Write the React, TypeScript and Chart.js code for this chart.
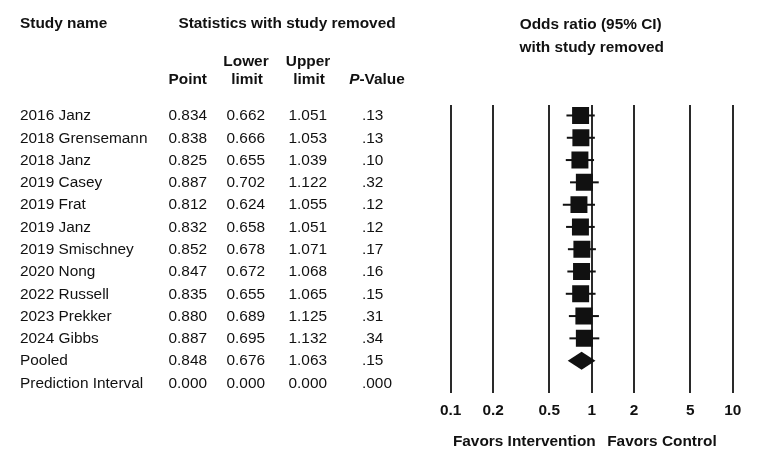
import React, { useEffect, useRef } from 'react';
import { Chart, registerables } from 'chart.js';

Chart.register(...registerables);

const studyNames = [
  '2016 Janz',
  '2018 Grensemann',
  '2018 Janz',
  '2019 Casey',
  '2019 Frat',
  '2019 Janz',
  '2019 Smischney',
  '2020 Nong',
  '2022 Russell',
  '2023 Prekker',
  '2024 Gibbs',
];
const pointEstimates = [0.834, 0.838, 0.825, 0.887, 0.812, 0.832, 0.852, 0.847, 0.835, 0.88, 0.887];
const lowerLimits = [0.662, 0.666, 0.655, 0.702, 0.624, 0.658, 0.678, 0.672, 0.655, 0.689, 0.695];
const upperLimits = [1.051, 1.053, 1.039, 1.122, 1.055, 1.051, 1.071, 1.068, 1.065, 1.125, 1.132];
const pValues = ['.13', '.13', '.10', '.32', '.12', '.12', '.17', '.16', '.15', '.31', '.34'];

const pooledLabel = 'Pooled';
const pooledPoint = 0.848;
const pooledLower = 0.676;
const pooledUpper = 1.063;
const pooledP = '.15';

const predictionLabel = 'Prediction Interval';
const predictionPoint = 0.0;
const predictionLower = 0.0;
const predictionUpper = 0.0;
const predictionP = '.000';

const tickValues = [0.1, 0.2, 0.5, 1, 2, 5, 10];
const tickLabels = ['0.1', '0.2', '0.5', '1', '2', '5', '10'];

const FONT = '"Liberation Sans", Arial, Helvetica, sans-serif';
const INK = '#111111';
const FS = 15.4;

export default function App() {
  const ref = useRef<HTMLCanvasElement>(null);

  useEffect(() => {
    const canvas = ref.current;
    if (!canvas) return;

    const rows = [
      ...studyNames.map((name, i) => ({
        name,
        point: pointEstimates[i],
        lower: lowerLimits[i],
        upper: upperLimits[i],
        p: pValues[i],
      })),
      { name: pooledLabel, point: pooledPoint, lower: pooledLower, upper: pooledUpper, p: pooledP },
      { name: predictionLabel, point: predictionPoint, lower: predictionLower, upper: predictionUpper, p: predictionP },
    ];
    const pooledIndex = studyNames.length;

    const forestPlugin = {
      id: 'forestPlugin',
      beforeDatasetsDraw(chart: any) {
        const { ctx } = chart;
        const x = chart.scales.x;
        const y = chart.scales.y;
        ctx.save();
        ctx.strokeStyle = INK;
        ctx.lineWidth = 2;
        studyNames.forEach((_, i) => {
          const py = y.getPixelForValue(i);
          ctx.beginPath();
          ctx.moveTo(x.getPixelForValue(lowerLimits[i]), py);
          ctx.lineTo(x.getPixelForValue(upperLimits[i]), py);
          ctx.stroke();
        });
        ctx.restore();
      },
      afterDatasetsDraw(chart: any) {
        const { ctx } = chart;
        const x = chart.scales.x;
        const y = chart.scales.y;
        const py = y.getPixelForValue(pooledIndex);
        ctx.save();
        ctx.fillStyle = INK;
        ctx.beginPath();
        ctx.moveTo(x.getPixelForValue(pooledLower), py);
        ctx.lineTo(x.getPixelForValue(pooledPoint), py - 9);
        ctx.lineTo(x.getPixelForValue(pooledUpper), py);
        ctx.lineTo(x.getPixelForValue(pooledPoint), py + 9);
        ctx.closePath();
        ctx.fill();
        ctx.restore();
      },
      afterDraw(chart: any) {
        const { ctx, chartArea } = chart;
        const x = chart.scales.x;
        const y = chart.scales.y;
        ctx.save();
        ctx.fillStyle = INK;
        ctx.textBaseline = 'middle';

        const bold = `bold ${FS}px ${FONT}`;
        const normal = `${FS}px ${FONT}`;

        // Headers
        ctx.font = bold;
        ctx.textAlign = 'left';
        ctx.fillText('Study name', 20, 24);
        ctx.textAlign = 'center';
        ctx.fillText('Statistics with study removed', 287, 24);
        const cx = (chartArea.left + chartArea.right) / 2;
        ctx.fillText('Odds ratio (95% CI)', cx - 1, 25);
        ctx.fillText('with study removed', cx, 47.5);

        ctx.textAlign = 'right';
        ctx.fillText('Point', 207, 80);
        ctx.textAlign = 'center';
        ctx.fillText('Lower', 246, 61.5);
        ctx.fillText('limit', 247, 80);
        ctx.fillText('Upper', 308, 61.5);
        ctx.fillText('limit', 309, 80);

        // P-Value header with italic P
        ctx.textAlign = 'left';
        const italicBold = `italic bold ${FS}px ${FONT}`;
        ctx.font = italicBold;
        const wP = ctx.measureText('P').width;
        ctx.font = bold;
        const wRest = ctx.measureText('-Value').width;
        const startX = 377 - (wP + wRest) / 2;
        ctx.font = italicBold;
        ctx.fillText('P', startX, 80);
        ctx.font = bold;
        ctx.fillText('-Value', startX + wP, 80);

        // Rows
        ctx.font = normal;
        rows.forEach((r, i) => {
          const py = y.getPixelForValue(i) + 0.5;
          ctx.textAlign = 'left';
          ctx.fillText(r.name, 20, py);
          ctx.textAlign = 'right';
          ctx.fillText(r.point.toFixed(3), 207, py);
          ctx.fillText(r.lower.toFixed(3), 265, py);
          ctx.fillText(r.upper.toFixed(3), 327, py);
          ctx.textAlign = 'left';
          ctx.fillText(r.p, 362, py);
        });

        // Favors labels
        const one = x.getPixelForValue(1);
        ctx.font = bold;
        ctx.textAlign = 'right';
        ctx.fillText('Favors Intervention', one + 4, 442);
        ctx.textAlign = 'left';
        ctx.fillText('Favors Control', one + 15.5, 442);

        ctx.restore();
      },
    };

    const chart = new Chart(canvas, {
      type: 'scatter',
      data: {
        datasets: [
          {
            data: studyNames.map((_, i) => ({ x: pointEstimates[i], y: i })),
            pointStyle: 'rect',
            pointRadius: 12,
            pointHoverRadius: 12,
            backgroundColor: INK,
            borderWidth: 0,
            showLine: false,
          },
        ],
      },
      options: {
        animation: false,
        responsive: false,
        events: [],
        layout: {
          padding: { left: 450.7, right: 33.3, top: 105, bottom: 25 },
        },
        plugins: {
          legend: { display: false },
          tooltip: { enabled: false },
        },
        scales: {
          x: {
            type: 'logarithmic',
            min: 0.1,
            max: 10,
            afterBuildTicks: (scale: any) => {
              scale.ticks = tickValues.map((v) => ({ value: v }));
            },
            border: { display: false },
            grid: {
              color: '#2a2a2a',
              lineWidth: 2,
              drawTicks: false,
            },
            ticks: {
              autoSkip: false,
              maxRotation: 0,
              padding: 9,
              color: INK,
              font: { family: FONT, size: FS, weight: 'bold' },
              callback: (value: any) => {
                const idx = tickValues.indexOf(Number(value));
                return idx >= 0 ? tickLabels[idx] : '';
              },
            },
          },
          y: {
            type: 'linear',
            display: false,
            reverse: true,
            min: -0.47,
            max: 12.43,
          },
        },
      },
      plugins: [forestPlugin],
    } as any);

    return () => chart.destroy();
  }, []);

  return (
    <div style={{ position: 'absolute', left: 0, top: 0, width: 766, height: 454, background: '#fff' }}>
      <canvas ref={ref} width={766} height={454} style={{ display: 'block' }} />
    </div>
  );
}
